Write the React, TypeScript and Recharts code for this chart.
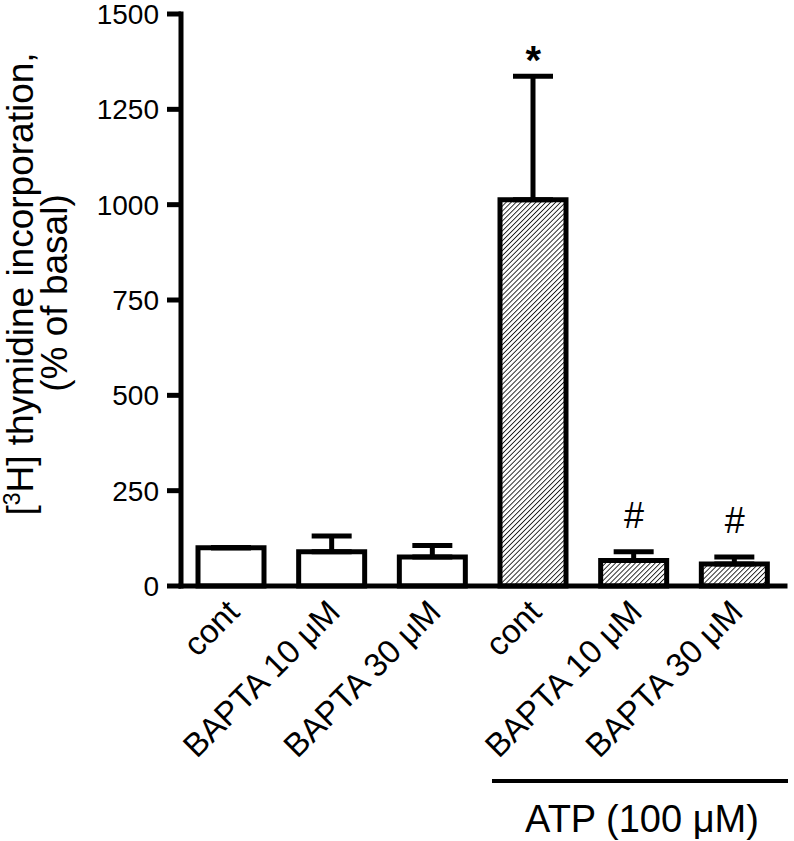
import React from 'react';
import { ComposedChart, Bar, Line, XAxis, YAxis, Cell, ErrorBar, LabelList } from 'recharts';

// groups along the x axis
const categories = ['cont', 'BAPTA 10 μM', 'BAPTA 30 μM', 'cont', 'BAPTA 10 μM', 'BAPTA 30 μM'];
const means = [100, 90, 76, 1013, 67, 58];
const sems = [0, 41, 30, 324, 23, 18];
const atpTreated = [false, false, false, true, true, true];
const marks = ['', '', '', '*', '#', '#'];
const yTicks = [0, 250, 500, 750, 1000, 1250, 1500];

const FONT = '"Liberation Sans", Arial, Helvetica, sans-serif';

const data = categories.map((name, i) => ({
    key: `${name}-${i}`,
    name,
    mean: means[i],
    err: [0, sems[i]],
    top: means[i] + sems[i],
    mark: marks[i],
}));

const XTick = ({ x, y, payload }: any) => (
    <g transform={`translate(${x + 10},${y + 20})`}>
        <text transform="rotate(-45)" textAnchor="end" fontSize={33} fontFamily={FONT} fill="#000">
            {String(payload.value).split('-')[0]}
        </text>
    </g>
);

const Mark = ({ x, y, value }: any) => {
    if (!value) return null;
    const star = value === '*';
    return (
        <text
            x={x}
            y={star ? y - 2 : y - 24}
            textAnchor="middle"
            fontSize={star ? 40 : 36}
            fontWeight={star ? 'bold' : 'normal'}
            fontFamily={FONT}
            fill="#000"
        >
            {value}
        </text>
    );
};

const YLabel = () => (
    <g fontFamily={FONT} fontSize={37} fill="#000">
        <text transform="translate(33,284) rotate(-90)" textAnchor="middle">
            [<tspan dy={-13} fontSize={23}>3</tspan>
            <tspan dy={13}>H] thymidine incorporation,</tspan>
        </text>
        <text transform="translate(67,293) rotate(-90)" textAnchor="middle">
            (% of basal)
        </text>
    </g>
);

const App = () => {
    return (
        <div style={{ position: 'absolute', left: 0, top: 0, width: 794, height: 841, background: '#fff' }}>
            <ComposedChart
                width={794}
                height={841}
                data={data}
                margin={{ top: 14, right: 9, left: 0, bottom: 0 }}
            >
                <defs>
                    <pattern id="hatch" patternUnits="userSpaceOnUse" width={3.5} height={3.5} patternTransform="rotate(45)">
                        <rect width={3.5} height={3.5} fill="#fff" />
                        <line x1={0} y1={0} x2={0} y2={3.5} stroke="#1a1a1a" strokeWidth={1.8} />
                    </pattern>
                </defs>
                <XAxis
                    dataKey="key"
                    height={255}
                    tickLine={false}
                    axisLine={{ stroke: '#000', strokeWidth: 5, strokeLinecap: 'square' }}
                    tick={<XTick />}
                    interval={0}
                />
                <YAxis
                    width={181}
                    domain={[0, 1500]}
                    ticks={yTicks}
                    interval={0}
                    tickSize={14}
                    tickMargin={8}
                    axisLine={{ stroke: '#000', strokeWidth: 5, strokeLinecap: 'square' }}
                    tickLine={{ stroke: '#000', strokeWidth: 5 }}
                    tick={{ fill: '#000', fontSize: 28, fontFamily: FONT }}
                    label={{ content: () => <YLabel /> }}
                />
                <Bar dataKey="mean" barSize={66} stroke="#000" strokeWidth={5} isAnimationActive={false}>
                    {data.map((d, i) => (
                        <Cell key={d.key} fill={atpTreated[i] ? 'url(#hatch)' : '#fff'} />
                    ))}
                    <ErrorBar dataKey="err" direction="y" width={20} stroke="#000" strokeWidth={5} isAnimationActive={false} />
                </Bar>
                <Line dataKey="top" stroke="none" dot={false} activeDot={false} isAnimationActive={false}>
                    <LabelList dataKey="mark" content={<Mark />} />
                </Line>
            </ComposedChart>
            <svg width={794} height={841} style={{ position: 'absolute', left: 0, top: 0, pointerEvents: 'none' }}>
                <line x1={492} y1={781} x2={788} y2={781} stroke="#000" strokeWidth={4} />
                <text x={642} y={832} textAnchor="middle" fontSize={38} fontFamily={FONT} fill="#000">
                    ATP (100 μM)
                </text>
            </svg>
        </div>
    );
};

export default App;
